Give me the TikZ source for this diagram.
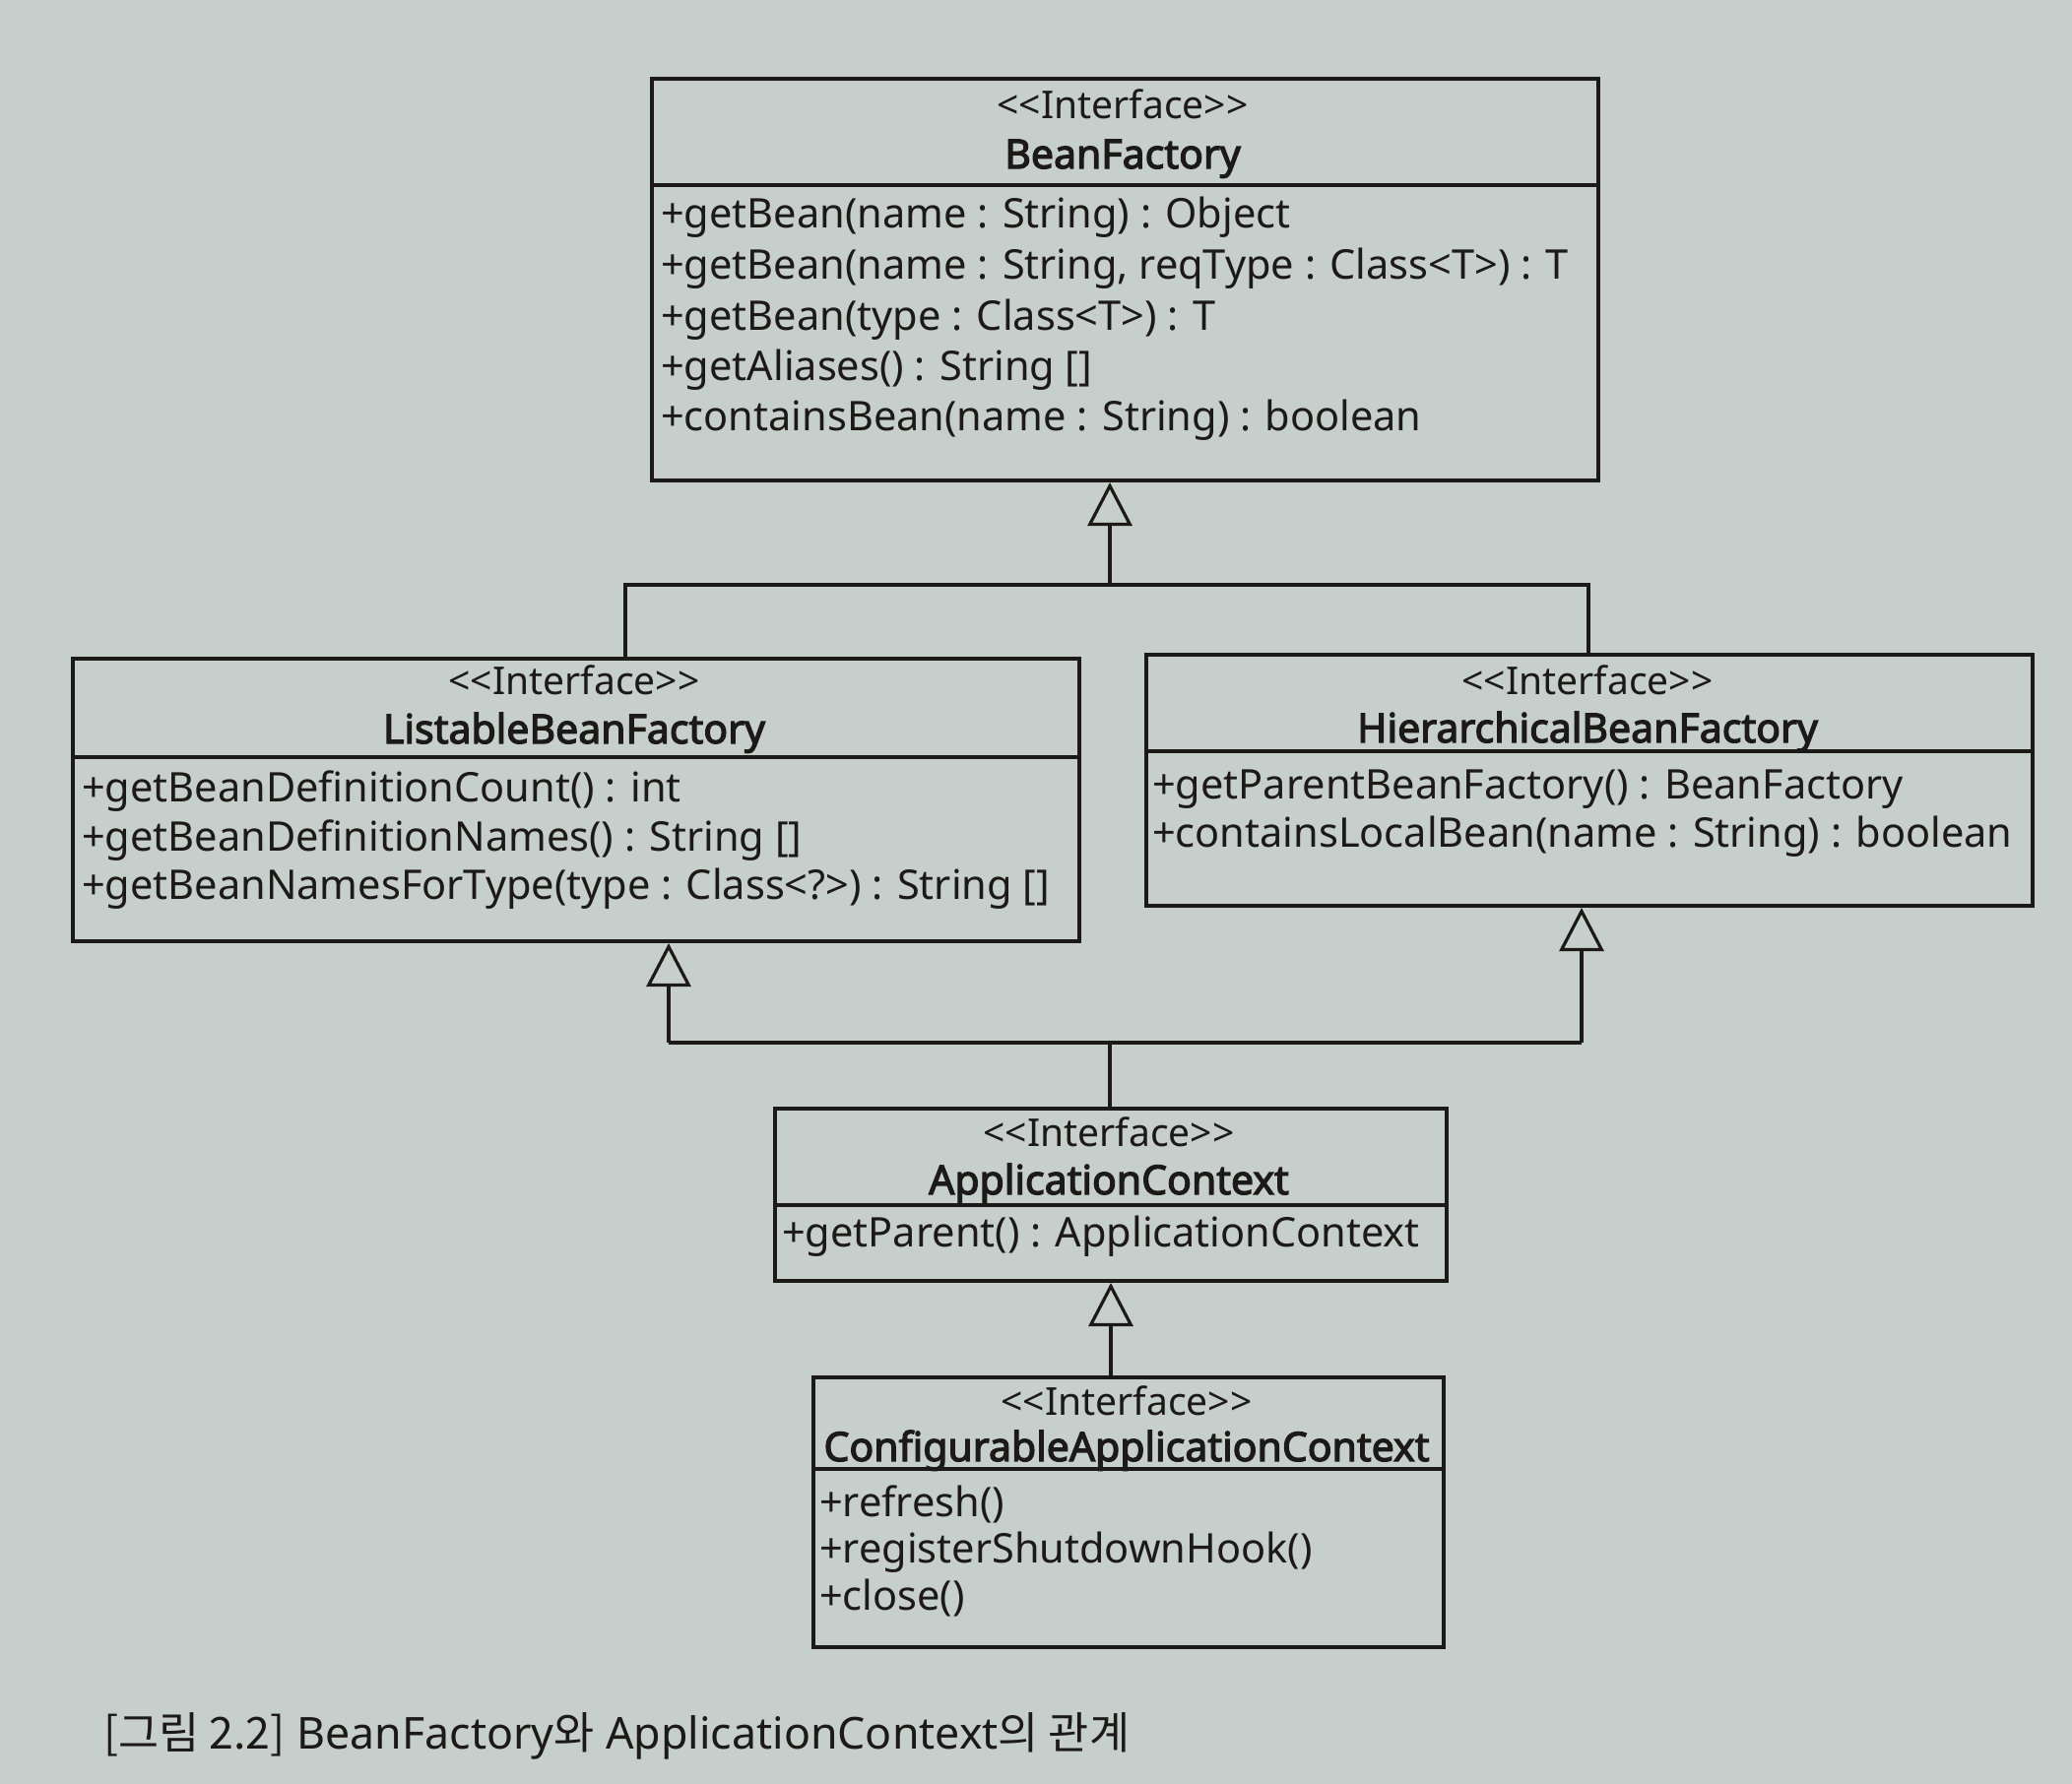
\documentclass[tikz,border=0pt]{standalone}
\usepackage{fontspec}
\setmainfont{Noto Sans}
\newfontfamily\namefont[FakeBold=3]{Noto Sans}
\newfontfamily\kr{Noto Sans CJK KR}
\usetikzlibrary{arrows.meta,calc}
\definecolor{paper}{RGB}{199,207,205}
\definecolor{ink}{RGB}{28,25,25}

\tikzset{
  umlbox/.style={draw=ink, line width=4pt, anchor=north west, inner sep=0pt},
  divider/.style={draw=ink, line width=3.5pt},
  stereo/.style={anchor=base, inner sep=0pt, text=ink, font=\fontsize{39}{44}\selectfont},
  cname/.style={anchor=base, inner sep=0pt, text=ink, font=\namefont\fontsize{41}{44}\selectfont},
  member/.style={anchor=base west, inner sep=0pt, text=ink, font=\fontsize{41.5}{44}\selectfont},
  wire/.style={draw=ink, line width=3.2pt},
  inherit/.style={draw=ink, line width=3.2pt, -{Triangle[open, length=44pt, width=45pt]}},
}
% stereotype label, kept apart so the brackets are not merged into guillemets
\newcommand{\iface}{<{}<Interface>{}>}

\begin{document}
\begin{tikzpicture}[x=1pt, y=-1pt]
\fill[paper] (0,0) rectangle (2104,1812);
\useasboundingbox (0,0) rectangle (2104,1812);

% ---- BeanFactory
\node[umlbox, minimum width=961pt, minimum height=408pt] (bf) at (660,78) {};
\draw[divider] (bf.west |- 0,188) -- (bf.east |- 0,188);
\node[stereo] (bf-st) at (1140,120) {\iface};
\node[cname] (bf-nm) at (1140,171) {BeanFactory};
\node[member] (bf-m1) at (671,231) {+getBean(name : String) : Object};
\node[member] (bf-m2) at (671,283) {+getBean(name : String, reqType : Class<T>) : T};
\node[member] (bf-m3) at (671,335) {+getBean(type : Class<T>) : T};
\node[member] (bf-m4) at (671,386) {+getAliases() : String []};
\node[member] (bf-m5) at (671,437) {+containsBean(name : String) : boolean};

% ---- ListableBeanFactory
\node[umlbox, minimum width=1022pt, minimum height=287pt] (lbf) at (72,667) {};
\draw[divider] (lbf.west |- 0,769) -- (lbf.east |- 0,769);
\node[stereo] (lbf-st) at (583,705) {\iface};
\node[cname] (lbf-nm) at (583,755) {ListableBeanFactory};
\node[member] (lbf-m1) at (83,814) {+getBeanDefinitionCount() : int};
\node[member] (lbf-m2) at (83,864) {+getBeanDefinitionNames() : String []};
\node[member] (lbf-m3) at (83,913) {+getBeanNamesForType(type : Class<?>) : String []};

% ---- HierarchicalBeanFactory
\node[umlbox, minimum width=900pt, minimum height=255pt] (hbf) at (1162,663) {};
\draw[divider] (hbf.west |- 0,763) -- (hbf.east |- 0,763);
\node[stereo] (hbf-st) at (1612,705) {\iface};
\node[cname] (hbf-nm) at (1612,754) {HierarchicalBeanFactory};
\node[member] (hbf-m1) at (1170,811) {+getParentBeanFactory() : BeanFactory};
\node[member] (hbf-m2) at (1170,860) {+containsLocalBean(name : String) : boolean};

% ---- ApplicationContext
\node[umlbox, minimum width=682pt, minimum height=175pt] (ac) at (785,1124) {};
\draw[divider] (ac.west |- 0,1224) -- (ac.east |- 0,1224);
\node[stereo] (ac-st) at (1126,1164) {\iface};
\node[cname] (ac-nm) at (1126,1213) {ApplicationContext};
\node[member] (ac-m1) at (794,1266) {+getParent() : ApplicationContext};

% ---- ConfigurableApplicationContext
\node[umlbox, minimum width=640pt, minimum height=274pt] (cac) at (824,1397) {};
\draw[divider] (cac.west |- 0,1492) -- (cac.east |- 0,1492);
\node[stereo] (cac-st) at (1144,1437) {\iface};
\node[cname] (cac-nm) at (1144,1484) {ConfigurableApplicationContext};
\node[member] (cac-m1) at (832,1540) {+refresh()};
\node[member] (cac-m2) at (832,1587) {+registerShutdownHook()};
\node[member] (cac-m3) at (832,1635) {+close()};

% ---- generalisation connectors
\coordinate (j1) at (1127,594);
\coordinate (bl1) at (635,594);
\coordinate (br1) at (1613,594);
\draw[inherit] (j1) -- (j1 |- bf.south);
\draw[wire] (lbf.north -| bl1) -- (bl1) -- (br1) -- (hbf.north -| br1);

\coordinate (j2) at (1127,1059);
\coordinate (bl2) at (679,1059);
\coordinate (br2) at (1606,1059);
\draw[inherit] (bl2) -- (bl2 |- lbf.south);
\draw[inherit] (br2) -- (br2 |- hbf.south);
\draw[wire] (bl2) -- (br2);
\draw[wire] (j2) -- (j2 |- ac.north);

\coordinate (j3) at (1128,1350);
\draw[inherit] (cac.north -| j3) -- (j3 |- ac.south);

% ---- caption
\node[anchor=base west, inner sep=0pt, text=ink, font=\fontsize{44.7}{48}\selectfont] (cap) at (105,1776)
  {{\kr [그림 2.2]} BeanFactory{\kr 와} ApplicationContext{\kr 의 관계}};
\end{tikzpicture}
\end{document}
